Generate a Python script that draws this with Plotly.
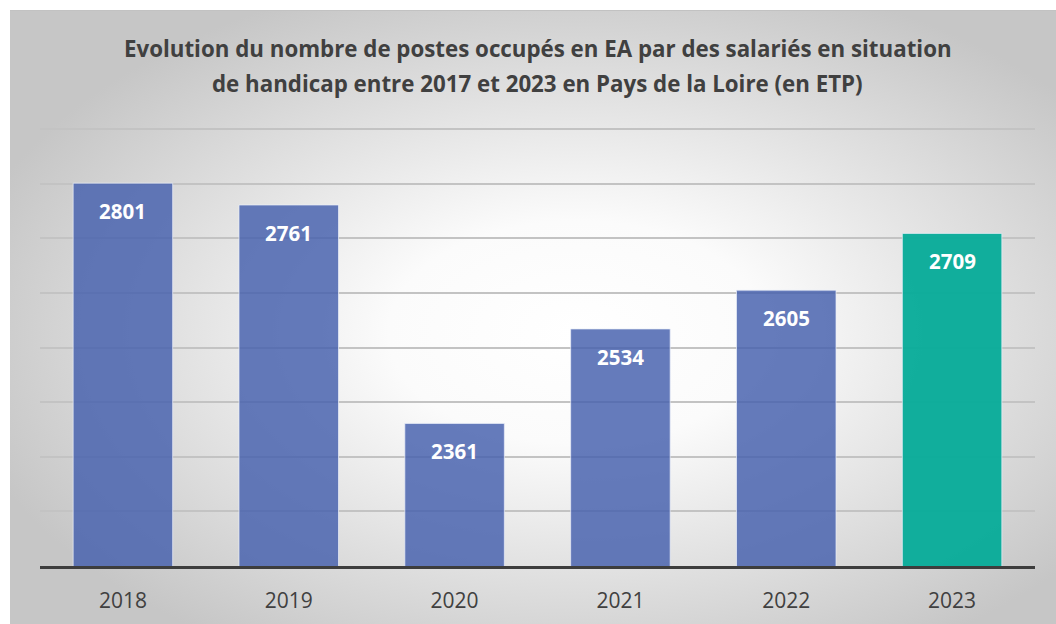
import base64
import plotly.graph_objects as go

# Données
annees = ["2018", "2019", "2020", "2021", "2022", "2023"]
postes_etp = [2801, 2761, 2361, 2534, 2605, 2709]
couleurs = ["rgba(72,98,174,0.84)"] * 5 + ["rgba(8,172,153,0.96)"]

titre_l1 = "Evolution du nombre de postes occupés en EA par des salariés en situation"
titre_l2 = "de handicap entre 2017 et 2023 en Pays de la Loire (en ETP)"

# fond dégradé radial (comme dans Excel)
svg = (
    '<svg xmlns="http://www.w3.org/2000/svg" width="1050" height="620">'
    '<defs><radialGradient id="g" cx="54%" cy="52%" r="60%">'
    '<stop offset="0" stop-color="#ffffff"/>'
    '<stop offset="0.3" stop-color="#fbfbfb"/>'
    '<stop offset="1" stop-color="#c6c6c6"/>'
    '</radialGradient></defs>'
    '<rect width="1050" height="620" fill="url(#g)"/>'
    '<line x1="0" y1="0.5" x2="1050" y2="0.5" stroke="#c2c2c2" stroke-width="1"/>'
    '</svg>'
)
fond_svg = "data:image/svg+xml;base64," + base64.b64encode(svg.encode()).decode()

L, R, T, B = 40, 21, 128, 58
H_PLOT = 624 - T - B
W_PLOT = 1056 - L - R

fig = go.Figure()
fig.add_trace(go.Bar(
    x=annees,
    y=postes_etp,
    marker=dict(color=couleurs, line=dict(color="rgba(235,240,250,0.7)", width=1)),
    width=0.6,
))

# étiquettes de valeurs dans le haut des barres
# (index de catégorie, sinon "2018" est lu comme nombre)
for i, v in enumerate(postes_etp):
    fig.add_annotation(
        x=i, y=v, yshift=-28, text=f"<b>{v}</b>", showarrow=False,
        font=dict(family="Open Sans", size=20.5, color="white"),
    )

# titre sur deux lignes
for txt, ypix in [(titre_l1, 48), (titre_l2, 83)]:
    fig.add_annotation(
        xref="paper", yref="paper", x=0.5, y=(624 - B - ypix) / H_PLOT,
        text=f"<b>{txt}</b>", showarrow=False, yanchor="middle",
        font=dict(family="Open Sans", size=22.3, color="#404040"),
    )

fig.add_layout_image(
    source=fond_svg, xref="paper", yref="paper",
    x=(10 - L) / W_PLOT, y=(624 - B - 10) / H_PLOT,
    sizex=1050 / W_PLOT, sizey=620 / H_PLOT,
    xanchor="left", yanchor="top", sizing="stretch", layer="below",
)

fig.update_layout(
    width=1056, height=624,
    margin=dict(l=L, r=R, t=T, b=B),
    paper_bgcolor="white",
    plot_bgcolor="rgba(0,0,0,0)",
    showlegend=False,
    font=dict(family="Open Sans", color="#404040"),
)
fig.update_xaxes(
    type="category", range=[-0.5, len(annees) - 0.5], automargin=False,
    showline=True, linewidth=3, linecolor="#3d3d3d",
    ticks="outside", ticklen=14, tickcolor="rgba(0,0,0,0)",
    tickfont=dict(family="Open Sans", size=21, color="#404040"),
    showgrid=False,
)
fig.update_yaxes(
    range=[2100, 2902], dtick=100, showticklabels=False, automargin=False,
    gridcolor="#c3c3c3", gridwidth=1.5, zeroline=False,
)

fig.write_html(
    "out.html",
    config={"displayModeBar": False},
    post_script="document.body.style.margin='0';",
)
